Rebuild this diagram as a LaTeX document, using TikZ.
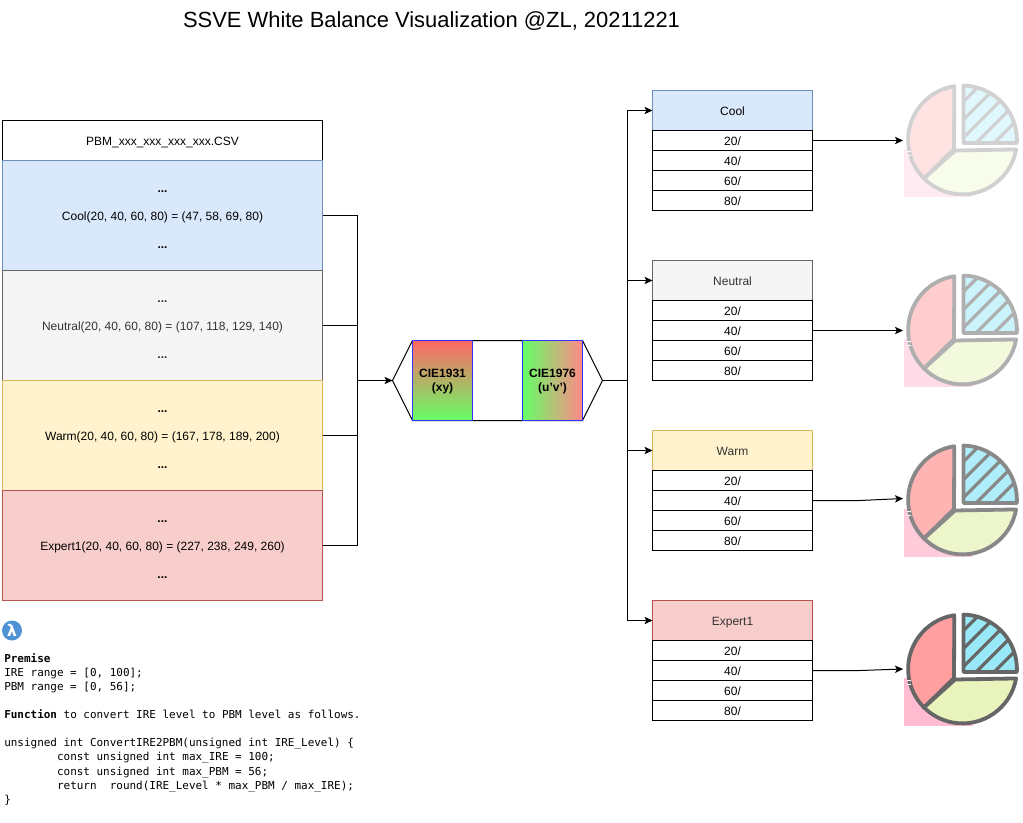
\documentclass[tikz,border=0pt]{standalone}
\usepackage{fontspec}
\setmainfont{Liberation Sans}
\setmonofont{DejaVu Sans Mono}
\newfontfamily\lamfont{DejaVu Sans}
\usetikzlibrary{arrows.meta,calc,shapes.geometric}
\definecolor{coolF}{HTML}{DAE8FC}\definecolor{coolS}{HTML}{6C8EBF}
\definecolor{neutF}{HTML}{F5F5F5}\definecolor{neutS}{HTML}{666666}
\definecolor{warmF}{HTML}{FFF2CC}\definecolor{warmS}{HTML}{D6B656}
\definecolor{expF}{HTML}{F8CECC}\definecolor{expS}{HTML}{B85450}
\definecolor{pieS}{HTML}{666666}\definecolor{pieR}{HTML}{FF9F9F}
\definecolor{pieY}{HTML}{E8F4BC}\definecolor{pieB}{HTML}{99E8F8}
\definecolor{pieP}{HTML}{FFBBD0}
\definecolor{txtN}{HTML}{333333}\definecolor{lam}{HTML}{4F93D4}
\definecolor{gradR}{HTML}{FF6666}\definecolor{gradG}{HTML}{66FF66}
\definecolor{gradR2}{HTML}{FF8888}\definecolor{chartS}{HTML}{3333FF}
\tikzset{
  conn/.style={line width=.75pt,draw=black},
  arr/.style={conn,-{Stealth[length=6pt,width=5.5pt,inset=1.4pt]}},
  base/.style={draw,line width=.75pt,inner sep=0pt,outer sep=0pt,font=\fontsize{9}{11}\selectfont,align=center},
  oneline/.style={base,text height=7pt,text depth=.2pt},
  cell/.style={base,minimum width=240pt,minimum height=82.5pt,font=\fontsize{9}{21}\selectfont},
  headcell/.style={oneline,minimum width=240pt,minimum height=30pt,fill=white},
  thead/.style={oneline,minimum width=120pt,minimum height=30pt},
  trow/.style={oneline,minimum width=120pt,minimum height=15pt,fill=white},
  chart/.style={base,draw=chartS,minimum width=45pt,minimum height=60pt,font=\fontsize{9}{10.5}\selectfont\bfseries},
  piestroke/.style={line width=2.85pt,line join=round}
}
\newcommand{\rowsfor}[2]{% name, top y of header
  \node[trow] (#1r20) at (732.5,#2+50) {20/};
  \node[trow] (#1r40) at (732.5,#2+70) {40/};
  \node[trow] (#1r60) at (732.5,#2+90) {60/};
  \node[trow] (#1r80) at (732.5,#2+110) {80/};
}
\newcommand{\dotsline}{\rule{0pt}{7pt}\textbf{...}}
\newcommand{\pieicon}[2]{% y offset, strength percent
  \begin{scope}[shift={(0,#1)}]
    \coordinate (C) at (962.5,140);
    \fill[pieP!#2!white] (904,149) rectangle (973,197);
    \coordinate (aL) at (954,149);
    \coordinate (aR) at (963.5,143);
    \coordinate (aB) at (955,150.5);
    \draw[piestroke,draw=pieS!#2!white,fill=pieR!#2!white]
      (aL) -- ($(C)+(98.7:40.8pt)$) arc[start angle=98.7,end angle=225,radius=40.8pt] -- cycle;
    \draw[piestroke,draw=pieS!#2!white,fill=pieY!#2!white]
      (aB) -- ($(C)+(-10:40.8pt)$) arc[start angle=-10,end angle=-135,radius=40.8pt] -- cycle;
    \fill[pieB!#2!white]
      (aR) -- ($(C)+(89:40.8pt)$) arc[start angle=89,end angle=-3.2,radius=40.8pt] -- cycle;
    \begin{scope}
      \clip (aR) -- ($(C)+(89:40.8pt)$) arc[start angle=89,end angle=-3.2,radius=40.8pt] -- cycle;
      \foreach \s in {1047,1065,1083,1101,1119,1137}{
        \draw[line width=2.4pt,draw=pieS!#2!white] (960,\s-960) -- (1025,\s-1025);
      }
    \end{scope}
    \draw[piestroke,draw=pieS!#2!white]
      (aR) -- ($(C)+(89:40.8pt)$) arc[start angle=89,end angle=-3.2,radius=40.8pt] -- cycle;
    \draw[white,line width=.8pt] (906.5,151.5) -- (911,151.5) (906.5,155.5) -- (911,155.5);
  \end{scope}
}
\begin{document}
\begin{tikzpicture}[x=.75pt,y=-.75pt]
\useasboundingbox (0,0) rectangle (1023,823);
\fill[white] (0,0) rectangle (1023,823);

\node[font=\fontsize{16.45}{20}\selectfont] (title) at (431.5,21) {SSVE White Balance Visualization @ZL, 20211221};

% left stack
\node[headcell] (csv) at (162.5,140.5) {PBM\_xxx\_xxx\_xxx\_xxx.CSV};
\node[cell,fill=coolF,draw=coolS] (cool) at (162.5,215.5) {\dotsline\\Cool(20, 40, 60, 80) = (47, 58, 69, 80)\\\textbf{...}};
\node[cell,fill=neutF,draw=neutS,text=txtN] (neutral) at (162.5,325.5) {\dotsline\\Neutral(20, 40, 60, 80) = (107, 118, 129, 140)\\\textbf{...}};
\node[cell,fill=warmF,draw=warmS] (warm) at (162.5,435.5) {\dotsline\\Warm(20, 40, 60, 80) = (167, 178, 189, 200)\\\textbf{...}};
\node[cell,fill=expF,draw=expS] (expert) at (162.5,545.5) {\dotsline\\Expert1(20, 40, 60, 80) = (227, 238, 249, 260)\\\textbf{...}};

% chart block
\coordinate (hexW) at (392.5,380.5);
\coordinate (hexE) at (602.5,380.5);
\coordinate (hexTL) at (412.5,340.5);
\coordinate (hexTR) at (582.5,340.5);
\coordinate (hexBR) at (582.5,420.5);
\coordinate (hexBL) at (412.5,420.5);
\draw[conn,fill=white] (hexW) -- (hexTL) -- (hexTR) -- (hexE) -- (hexBR) -- (hexBL) -- cycle;
\node[chart,top color=gradR,bottom color=gradG] (cie31) at (442.5,380.5) {\rule{0pt}{7.6pt}CIE1931\\(xy)};
\node[chart,left color=gradG,right color=gradR2] (cie76) at (552.5,380.5) {\rule{0pt}{7.6pt}CIE1976\\(u'v')};

% buses
\coordinate (busL) at (357.5,380.5);
\coordinate (busR) at (627.5,380.5);
\draw[conn] (cool.east) -| (busL);
\draw[conn] (neutral.east) -| (busL);
\draw[conn] (warm.east) -| (busL);
\draw[conn] (expert.east) -| (busL);
\draw[arr] (busL) -- (hexW);
\draw[conn] (hexE) -- (busR);

% tables
\node[thead,fill=coolF,draw=coolS] (tcool) at (732.5,110.5) {Cool};
\rowsfor{tcool}{90.5}
\node[thead,fill=neutF,draw=neutS,text=txtN] (tneutral) at (732.5,280.5) {Neutral};
\rowsfor{tneutral}{260.5}
\node[thead,fill=warmF,draw=warmS,text=txtN] (twarm) at (732.5,450.5) {Warm};
\rowsfor{twarm}{430.5}
\node[thead,fill=expF,draw=expS,text=txtN] (texpert) at (732.5,620.5) {Expert1};
\rowsfor{texpert}{600.5}

\draw[arr] (busR) |- (tcool.west);
\draw[arr] (busR) |- (tneutral.west);
\draw[arr] (busR) |- (twarm.west);
\draw[arr] (busR) |- (texpert.west);

% pies
\pieicon{0}{30}
\pieicon{190}{52}
\pieicon{360}{78}
\pieicon{529}{100}

\coordinate (pin1) at (903,140.5);
\coordinate (pin2) at (903,330.5);
\coordinate (pin3) at (903,498.5);
\coordinate (pin4) at (903,669);
\draw[arr] (tcoolr20.east) -- (pin1);
\draw[arr] (tneutralr40.east) -- (pin2);
\draw[arr] (twarmr40.east) -- (860,500.5) -- (pin3);
\draw[arr] (texpertr40.east) -- (860,670.5) -- (pin4);

% lambda badge
\node[circle,fill=lam,minimum size=15pt,inner sep=0pt,text=white,font=\lamfont\bfseries\fontsize{12}{14}\selectfont] (lambda) at (12,630.5) {λ};

% code
\node[anchor=north west,inner sep=0pt,align=left,font=\ttfamily\fontsize{8.22}{10.58}\selectfont] (code) at (4,653)
{\textbf{Premise}\\
IRE range = [0, 100];\\
PBM range = [0, 56];\\
\mbox{}\\
\textbf{Function} to convert IRE level to PBM level as follows.\\
\mbox{}\\
unsigned int ConvertIRE2PBM(unsigned int IRE\_Level) \{\\
\phantom{xxxxxxxx}const unsigned int max\_IRE = 100;\\
\phantom{xxxxxxxx}const unsigned int max\_PBM = 56;\\
\phantom{xxxxxxxx}return\phantom{xx}round(IRE\_Level * max\_PBM / max\_IRE);\\
\}};
\end{tikzpicture}
\end{document}
